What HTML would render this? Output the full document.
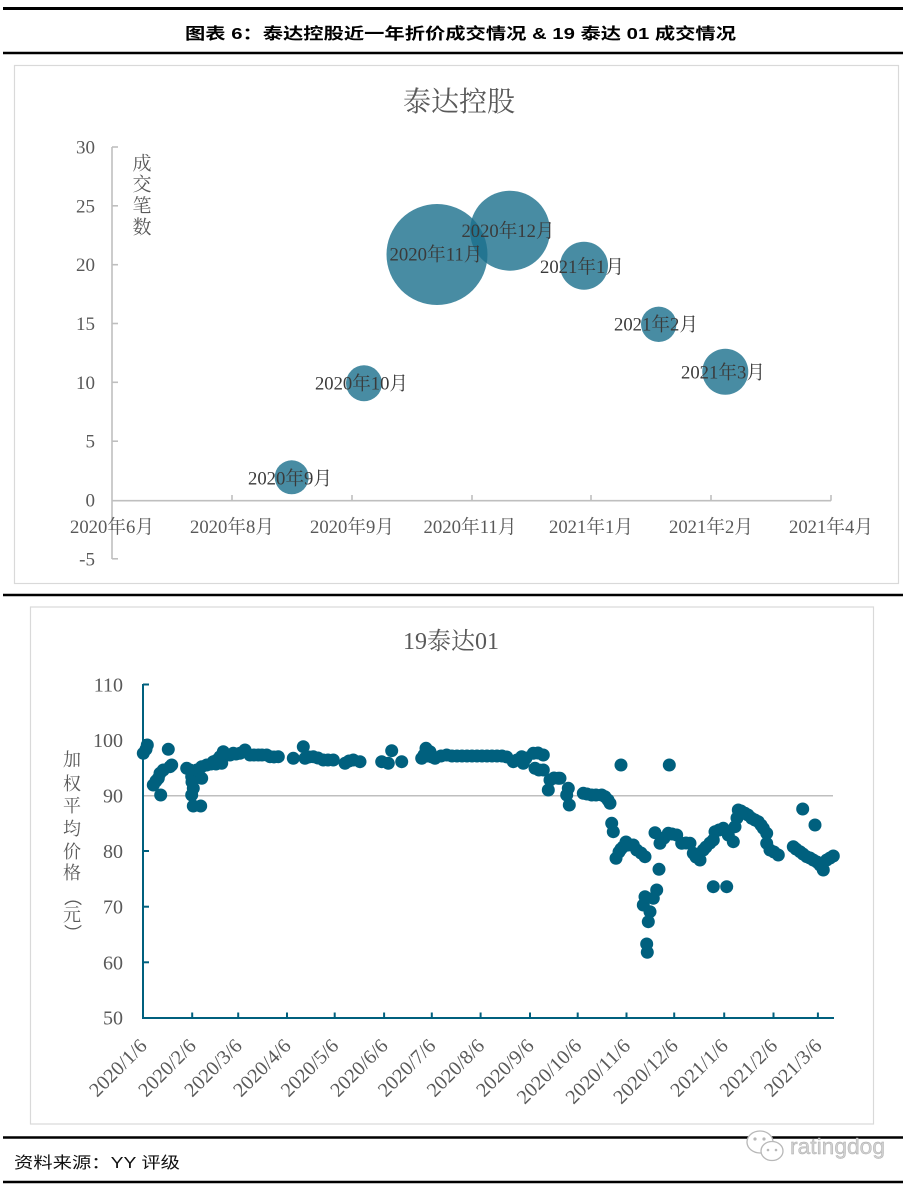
<!DOCTYPE html>
<html>
<head>
<meta charset="utf-8">
<style>
html,body{margin:0;padding:0;background:#fff;}
svg{display:block;}
.serif{font-family:"Liberation Serif","Noto Serif CJK SC",serif;}
.sans{font-family:"Liberation Sans","Noto Sans CJK SC",sans-serif;}
</style>
</head>
<body>
<svg width="918" height="1189" viewBox="0 0 918 1189" xmlns="http://www.w3.org/2000/svg">
<rect x="0" y="0" width="918" height="1189" fill="#fff"/>

<!-- header -->
<line x1="3" y1="8.5" x2="903" y2="8.5" stroke="#000" stroke-width="3"/>
<text class="sans" x="185" y="39" font-size="16" font-weight="bold" fill="#000" textLength="551" lengthAdjust="spacingAndGlyphs">图表 6：泰达控股近一年折价成交情况  &amp; 19 泰达 01 成交情况</text>
<line x1="3" y1="53" x2="903" y2="53" stroke="#000" stroke-width="2.5"/>

<!-- top chart box -->
<rect x="14.5" y="65.5" width="884" height="518" fill="#fff" stroke="#d9d9d9" stroke-width="1.2"/>
<text class="serif" x="459" y="111" font-size="28" fill="#595959" text-anchor="middle">泰达控股</text>

<g stroke="#bfbfbf" stroke-width="1.6" fill="none">
  <line x1="112" y1="147" x2="112" y2="559"/>
  <line x1="112" y1="500.7" x2="831" y2="500.7"/>
  <line x1="112" y1="147" x2="118" y2="147"/>
  <line x1="112" y1="205.8" x2="118" y2="205.8"/>
  <line x1="112" y1="264.7" x2="118" y2="264.7"/>
  <line x1="112" y1="323.5" x2="118" y2="323.5"/>
  <line x1="112" y1="382.3" x2="118" y2="382.3"/>
  <line x1="112" y1="441.2" x2="118" y2="441.2"/>
  <line x1="112" y1="558.8" x2="118" y2="558.8"/>
  <line x1="232" y1="495" x2="232" y2="500.7"/>
  <line x1="352" y1="495" x2="352" y2="500.7"/>
  <line x1="472" y1="495" x2="472" y2="500.7"/>
  <line x1="591" y1="495" x2="591" y2="500.7"/>
  <line x1="711" y1="495" x2="711" y2="500.7"/>
  <line x1="831" y1="495" x2="831" y2="500.7"/>
</g>

<g class="serif" font-size="19" fill="#595959" text-anchor="end">
  <text x="95" y="153.5">30</text>
  <text x="95" y="212.3">25</text>
  <text x="95" y="271.2">20</text>
  <text x="95" y="330">15</text>
  <text x="95" y="388.8">10</text>
  <text x="95" y="447.7">5</text>
  <text x="95" y="506.5">0</text>
  <text x="95" y="565.3">-5</text>
</g>
<g class="serif" font-size="19" fill="#595959" text-anchor="middle">
  <text x="112" y="533" textLength="84" lengthAdjust="spacingAndGlyphs">2020年6月</text>
  <text x="232" y="533" textLength="84" lengthAdjust="spacingAndGlyphs">2020年8月</text>
  <text x="352" y="533" textLength="84" lengthAdjust="spacingAndGlyphs">2020年9月</text>
  <text x="470" y="533" textLength="93" lengthAdjust="spacingAndGlyphs">2020年11月</text>
  <text x="591" y="533" textLength="84" lengthAdjust="spacingAndGlyphs">2021年1月</text>
  <text x="711" y="533" textLength="84" lengthAdjust="spacingAndGlyphs">2021年2月</text>
  <text x="831" y="533" textLength="84" lengthAdjust="spacingAndGlyphs">2021年4月</text>
</g>
<g class="serif" font-size="19" fill="#595959" text-anchor="middle">
  <text x="142" y="169.5">成</text>
  <text x="142" y="190.5">交</text>
  <text x="142" y="212">笔</text>
  <text x="142" y="233.5">数</text>
</g>

<!-- bubbles -->
<g fill="#1a6f8c" fill-opacity="0.8">
  <circle cx="291.7" cy="477.3" r="17"/>
  <circle cx="364" cy="383.3" r="18"/>
  <circle cx="437" cy="254.5" r="50.5"/>
  <circle cx="510" cy="230.7" r="40"/>
  <circle cx="584" cy="265.7" r="24"/>
  <circle cx="658.7" cy="324.3" r="17.7"/>
  <circle cx="725.3" cy="371.7" r="23"/>
</g>
<g class="serif" font-size="19" fill="#3a3a3a" text-anchor="middle">
  <text x="290" y="484.5" textLength="84" lengthAdjust="spacingAndGlyphs">2020年9月</text>
  <text x="361.5" y="389.5" textLength="93" lengthAdjust="spacingAndGlyphs">2020年10月</text>
  <text x="436" y="260.5" textLength="93" lengthAdjust="spacingAndGlyphs">2020年11月</text>
  <text x="508" y="237" textLength="93" lengthAdjust="spacingAndGlyphs">2020年12月</text>
  <text x="582" y="273" textLength="84" lengthAdjust="spacingAndGlyphs">2021年1月</text>
  <text x="656" y="330.5" textLength="84" lengthAdjust="spacingAndGlyphs">2021年2月</text>
  <text x="723" y="378.5" textLength="84" lengthAdjust="spacingAndGlyphs">2021年3月</text>
</g>

<!-- separator -->
<line x1="3" y1="595" x2="903" y2="595" stroke="#000" stroke-width="2.5"/>

<!-- bottom chart box -->
<rect x="30.5" y="607" width="843" height="517" fill="#fff" stroke="#d9d9d9" stroke-width="1.2"/>
<text class="serif" x="451" y="649" font-size="24" fill="#595959" text-anchor="middle">19泰达01</text>

<!-- gridline -->
<line x1="143" y1="795.7" x2="833" y2="795.7" stroke="#bfbfbf" stroke-width="1.5"/>

<!-- y labels -->
<g class="serif" font-size="20" fill="#595959" text-anchor="end">
  <text x="123" y="691.5">110</text>
  <text x="123" y="747">100</text>
  <text x="123" y="802.7">90</text>
  <text x="123" y="858">80</text>
  <text x="123" y="913.7">70</text>
  <text x="123" y="969.3">60</text>
  <text x="123" y="1024.7">50</text>
</g>
<g class="serif" font-size="18" fill="#595959" text-anchor="middle">
  <text x="72" y="766">加</text>
  <text x="72" y="790">权</text>
  <text x="72" y="812">平</text>
  <text x="72" y="835">均</text>
  <text x="72" y="858">价</text>
  <text x="72" y="879">格</text>
  <text x="72" y="921">元</text>
</g>
<g class="sans" font-size="18" fill="#595959" text-anchor="middle">
  <text transform="translate(72,897) rotate(90)" dy="6">（</text>
  <text transform="translate(72,933) rotate(90)" dy="6">）</text>
</g>

<!-- scatter -->
<g fill="#00607e">
<circle cx="143.3" cy="753.3" r="6.5"/><circle cx="147.3" cy="745" r="6.5"/><circle cx="146" cy="749.3" r="6.5"/>
<circle cx="153.3" cy="785" r="6.5"/><circle cx="156" cy="781" r="6.5"/><circle cx="158.3" cy="778.3" r="6.5"/>
<circle cx="160" cy="773.3" r="6.5"/><circle cx="163.3" cy="770" r="6.5"/><circle cx="160.7" cy="795" r="6.5"/>
<circle cx="168.3" cy="749.3" r="6.5"/><circle cx="170" cy="766.7" r="6.5"/><circle cx="171.7" cy="765" r="6.5"/>
<circle cx="186.7" cy="768.3" r="6.5"/><circle cx="190" cy="770" r="6.5"/><circle cx="191.7" cy="776.7" r="6.5"/>
<circle cx="192" cy="782" r="6.5"/><circle cx="193.3" cy="788.3" r="6.5"/><circle cx="191.7" cy="795" r="6.5"/>
<circle cx="193.3" cy="806" r="6.5"/><circle cx="200.7" cy="806" r="6.5"/><circle cx="196.7" cy="770" r="6.5"/>
<circle cx="201.7" cy="766.7" r="6.5"/><circle cx="206.7" cy="765" r="6.5"/><circle cx="201.7" cy="778.3" r="6.5"/>
<circle cx="211" cy="764" r="6.5"/>
<circle cx="213.3" cy="761.7" r="6.5"/><circle cx="217" cy="760" r="6.5"/><circle cx="220" cy="756.7" r="6.5"/>
<circle cx="223.3" cy="751.7" r="6.5"/><circle cx="221.7" cy="763.3" r="6.5"/><circle cx="226.7" cy="755" r="6.5"/>
<circle cx="216" cy="764" r="6.5"/><circle cx="230" cy="755" r="6.5"/><circle cx="233.3" cy="753.3" r="6.5"/>
<circle cx="236" cy="754" r="6.5"/><circle cx="240" cy="753.3" r="6.5"/><circle cx="245" cy="750" r="6.5"/>
<circle cx="250" cy="755" r="6.5"/><circle cx="254" cy="755" r="6.5"/><circle cx="258.3" cy="755" r="6.5"/>
<circle cx="262" cy="755" r="6.5"/><circle cx="266.7" cy="755" r="6.5"/><circle cx="270" cy="756.7" r="6.5"/>
<circle cx="274" cy="757" r="6.5"/><circle cx="278.3" cy="756.7" r="6.5"/>
<circle cx="293.3" cy="758.3" r="6.5"/><circle cx="303.3" cy="746.7" r="6.5"/><circle cx="305" cy="758.3" r="6.5"/>
<circle cx="309" cy="757" r="6.5"/><circle cx="313.3" cy="756.7" r="6.5"/><circle cx="318" cy="758" r="6.5"/>
<circle cx="323.3" cy="760" r="6.5"/><circle cx="328" cy="760" r="6.5"/><circle cx="333.3" cy="760" r="6.5"/>
<circle cx="345" cy="763.3" r="6.5"/><circle cx="349" cy="761" r="6.5"/><circle cx="353.3" cy="760" r="6.5"/>
<circle cx="360" cy="761.7" r="6.5"/>
<circle cx="381.7" cy="761.7" r="6.5"/><circle cx="388.3" cy="763.3" r="6.5"/><circle cx="391.7" cy="750.7" r="6.5"/>
<circle cx="401.7" cy="761.7" r="6.5"/>
<circle cx="421.7" cy="758.3" r="6.5"/><circle cx="426" cy="748.3" r="6.5"/><circle cx="430" cy="751.7" r="6.5"/>
<circle cx="435" cy="758.3" r="6.5"/><circle cx="428" cy="756" r="6.5"/><circle cx="424" cy="755" r="6.5"/>
<circle cx="432" cy="757" r="6.5"/><circle cx="441" cy="756" r="6.5"/>
<circle cx="446.7" cy="755" r="6.5"/><circle cx="452" cy="756" r="6.5"/><circle cx="457" cy="756" r="6.5"/>
<circle cx="462" cy="756" r="6.5"/><circle cx="467" cy="756" r="6.5"/><circle cx="472" cy="756" r="6.5"/>
<circle cx="477" cy="756" r="6.5"/><circle cx="482" cy="756" r="6.5"/><circle cx="487" cy="756" r="6.5"/>
<circle cx="492" cy="756" r="6.5"/><circle cx="497" cy="756" r="6.5"/><circle cx="502" cy="756" r="6.5"/>
<circle cx="506.7" cy="757" r="6.5"/>
<circle cx="513.3" cy="761.7" r="6.5"/><circle cx="517" cy="760" r="6.5"/><circle cx="521.7" cy="756.7" r="6.5"/>
<circle cx="523.3" cy="763.3" r="6.5"/><circle cx="526" cy="758" r="6.5"/><circle cx="533.3" cy="753.3" r="6.5"/>
<circle cx="538" cy="753" r="6.5"/><circle cx="543.3" cy="755" r="6.5"/><circle cx="535" cy="768.3" r="6.5"/>
<circle cx="539" cy="770" r="6.5"/><circle cx="543.3" cy="770" r="6.5"/><circle cx="550" cy="780" r="6.5"/>
<circle cx="554" cy="778" r="6.5"/><circle cx="558.3" cy="778.3" r="6.5"/><circle cx="548.3" cy="790" r="6.5"/>
<circle cx="560" cy="778.3" r="6.5"/>
<circle cx="568.3" cy="788.3" r="6.5"/><circle cx="566.7" cy="795" r="6.5"/><circle cx="569.3" cy="805" r="6.5"/>
<circle cx="583.3" cy="793.3" r="6.5"/><circle cx="587" cy="794" r="6.5"/><circle cx="591.7" cy="795" r="6.5"/>
<circle cx="596" cy="795" r="6.5"/><circle cx="601.7" cy="795" r="6.5"/><circle cx="605" cy="796.7" r="6.5"/>
<circle cx="608" cy="800" r="6.5"/><circle cx="610" cy="803.3" r="6.5"/><circle cx="611.7" cy="823.3" r="6.5"/>
<circle cx="613.3" cy="831.7" r="6.5"/><circle cx="621" cy="765" r="6.5"/>
<circle cx="616" cy="858.3" r="6.5"/><circle cx="619" cy="852" r="6.5"/><circle cx="621" cy="849" r="6.5"/>
<circle cx="623.3" cy="846.7" r="6.5"/><circle cx="626" cy="842" r="6.5"/><circle cx="628.3" cy="845" r="6.5"/>
<circle cx="633.3" cy="845" r="6.5"/><circle cx="636.7" cy="850" r="6.5"/><circle cx="641" cy="853" r="6.5"/>
<circle cx="645" cy="856.7" r="6.5"/><circle cx="655" cy="832.7" r="6.5"/><circle cx="660" cy="843.3" r="6.5"/>
<circle cx="664" cy="838" r="6.5"/><circle cx="668.3" cy="833.3" r="6.5"/><circle cx="672" cy="834" r="6.5"/>
<circle cx="676.7" cy="835" r="6.5"/><circle cx="681.7" cy="843.3" r="6.5"/><circle cx="686" cy="843" r="6.5"/>
<circle cx="690" cy="843.3" r="6.5"/><circle cx="693.3" cy="853.3" r="6.5"/><circle cx="696" cy="857" r="6.5"/>
<circle cx="700" cy="860" r="6.5"/><circle cx="659" cy="869.3" r="6.5"/><circle cx="656.7" cy="890" r="6.5"/>
<circle cx="653.3" cy="898.3" r="6.5"/><circle cx="645" cy="896.7" r="6.5"/><circle cx="643.3" cy="905" r="6.5"/>
<circle cx="650" cy="911.7" r="6.5"/><circle cx="648.3" cy="921.7" r="6.5"/><circle cx="646.7" cy="944" r="6.5"/>
<circle cx="647.3" cy="952.3" r="6.5"/><circle cx="669.3" cy="765" r="6.5"/>
<circle cx="703.3" cy="850" r="6.5"/><circle cx="706" cy="847" r="6.5"/><circle cx="710" cy="843" r="6.5"/>
<circle cx="713.3" cy="840" r="6.5"/><circle cx="715" cy="831.7" r="6.5"/><circle cx="719" cy="830" r="6.5"/>
<circle cx="723.3" cy="828.3" r="6.5"/><circle cx="728.3" cy="835" r="6.5"/><circle cx="733.3" cy="841.7" r="6.5"/>
<circle cx="735" cy="826.7" r="6.5"/><circle cx="737" cy="818" r="6.5"/><circle cx="738.3" cy="810" r="6.5"/>
<circle cx="741" cy="811" r="6.5"/><circle cx="745" cy="813.3" r="6.5"/><circle cx="748" cy="815" r="6.5"/>
<circle cx="751.7" cy="818.3" r="6.5"/><circle cx="755" cy="820" r="6.5"/><circle cx="758.3" cy="821.7" r="6.5"/>
<circle cx="761" cy="825" r="6.5"/><circle cx="763.3" cy="828.3" r="6.5"/><circle cx="766.7" cy="833.3" r="6.5"/>
<circle cx="766.7" cy="843.3" r="6.5"/><circle cx="770" cy="850" r="6.5"/><circle cx="774" cy="852" r="6.5"/>
<circle cx="778.3" cy="855" r="6.5"/><circle cx="713.3" cy="886.7" r="6.5"/><circle cx="726.7" cy="886.7" r="6.5"/>
<circle cx="793.3" cy="846.7" r="6.5"/><circle cx="796" cy="849" r="6.5"/><circle cx="800" cy="851.7" r="6.5"/>
<circle cx="803" cy="854" r="6.5"/><circle cx="806.7" cy="856.7" r="6.5"/><circle cx="810" cy="858" r="6.5"/>
<circle cx="813.3" cy="860" r="6.5"/><circle cx="817" cy="862" r="6.5"/><circle cx="820" cy="865" r="6.5"/>
<circle cx="823.3" cy="870" r="6.5"/><circle cx="826.7" cy="860" r="6.5"/><circle cx="830" cy="858" r="6.5"/>
<circle cx="833.3" cy="856" r="6.5"/><circle cx="802.7" cy="809" r="6.5"/><circle cx="815" cy="825" r="6.5"/>
</g>

<!-- axes bottom chart -->
<g stroke="#00607e" stroke-width="2" fill="none">
  <line x1="143" y1="684" x2="143" y2="1018.5"/>
  <line x1="142" y1="1018" x2="834" y2="1018"/>
  <line x1="143" y1="684.5" x2="149" y2="684.5"/>
  <line x1="143" y1="740" x2="149" y2="740"/>
  <line x1="143" y1="851" x2="149" y2="851"/>
  <line x1="143" y1="906.7" x2="149" y2="906.7"/>
  <line x1="143" y1="962.3" x2="149" y2="962.3"/>
  <line x1="192.2" y1="1012.5" x2="192.2" y2="1018"/>
  <line x1="238.2" y1="1012.5" x2="238.2" y2="1018"/>
  <line x1="287" y1="1012.5" x2="287" y2="1018"/>
  <line x1="334.7" y1="1012.5" x2="334.7" y2="1018"/>
  <line x1="384.1" y1="1012.5" x2="384.1" y2="1018"/>
  <line x1="431.8" y1="1012.5" x2="431.8" y2="1018"/>
  <line x1="480.6" y1="1012.5" x2="480.6" y2="1018"/>
  <line x1="530" y1="1012.5" x2="530" y2="1018"/>
  <line x1="577.7" y1="1012.5" x2="577.7" y2="1018"/>
  <line x1="626.5" y1="1012.5" x2="626.5" y2="1018"/>
  <line x1="674.2" y1="1012.5" x2="674.2" y2="1018"/>
  <line x1="724.2" y1="1012.5" x2="724.2" y2="1018"/>
  <line x1="773.5" y1="1012.5" x2="773.5" y2="1018"/>
  <line x1="817.9" y1="1012.5" x2="817.9" y2="1018"/>
</g>

<!-- rotated x labels -->
<g class="serif" font-size="20" fill="#595959" text-anchor="end">
  <text transform="translate(148,1047) rotate(-45)" textLength="72" lengthAdjust="spacingAndGlyphs">2020/1/6</text>
  <text transform="translate(197.2,1047) rotate(-45)" textLength="72" lengthAdjust="spacingAndGlyphs">2020/2/6</text>
  <text transform="translate(243.2,1047) rotate(-45)" textLength="72" lengthAdjust="spacingAndGlyphs">2020/3/6</text>
  <text transform="translate(292,1047) rotate(-45)" textLength="72" lengthAdjust="spacingAndGlyphs">2020/4/6</text>
  <text transform="translate(339.7,1047) rotate(-45)" textLength="72" lengthAdjust="spacingAndGlyphs">2020/5/6</text>
  <text transform="translate(389.1,1047) rotate(-45)" textLength="72" lengthAdjust="spacingAndGlyphs">2020/6/6</text>
  <text transform="translate(436.8,1047) rotate(-45)" textLength="72" lengthAdjust="spacingAndGlyphs">2020/7/6</text>
  <text transform="translate(485.6,1047) rotate(-45)" textLength="72" lengthAdjust="spacingAndGlyphs">2020/8/6</text>
  <text transform="translate(535,1047) rotate(-45)" textLength="72" lengthAdjust="spacingAndGlyphs">2020/9/6</text>
  <text transform="translate(582.7,1047) rotate(-45)" textLength="82" lengthAdjust="spacingAndGlyphs">2020/10/6</text>
  <text transform="translate(631.5,1047) rotate(-45)" textLength="82" lengthAdjust="spacingAndGlyphs">2020/11/6</text>
  <text transform="translate(679.2,1047) rotate(-45)" textLength="82" lengthAdjust="spacingAndGlyphs">2020/12/6</text>
  <text transform="translate(729.2,1047) rotate(-45)" textLength="72" lengthAdjust="spacingAndGlyphs">2021/1/6</text>
  <text transform="translate(778.5,1047) rotate(-45)" textLength="72" lengthAdjust="spacingAndGlyphs">2021/2/6</text>
  <text transform="translate(822.9,1047) rotate(-45)" textLength="72" lengthAdjust="spacingAndGlyphs">2021/3/6</text>
</g>

<!-- footer -->
<line x1="3" y1="1137.5" x2="903" y2="1137.5" stroke="#000" stroke-width="2.5"/>
<text class="sans" x="14" y="1168" font-size="16" fill="#111" textLength="166" lengthAdjust="spacingAndGlyphs">资料来源：YY 评级</text>
<line x1="3" y1="1182" x2="903" y2="1182" stroke="#000" stroke-width="2.5"/>

<!-- watermark -->
<g fill="#fff" stroke="#b8b8b8" stroke-width="1.3">
  <ellipse cx="760" cy="1142" rx="13" ry="11"/>
  <ellipse cx="772" cy="1151" rx="11" ry="9.5"/>
</g>
<g fill="#b8b8b8">
  <circle cx="755" cy="1139" r="1.6"/><circle cx="764" cy="1139" r="1.6"/>
  <circle cx="768" cy="1150" r="1.3"/><circle cx="776" cy="1150" r="1.3"/>
</g>
<text class="sans" x="790" y="1154" font-size="22" fill="#d0d0d0" stroke="#a8a8a8" stroke-width="0.4" textLength="95" lengthAdjust="spacingAndGlyphs">ratingdog</text>
</svg>
</body>
</html>
